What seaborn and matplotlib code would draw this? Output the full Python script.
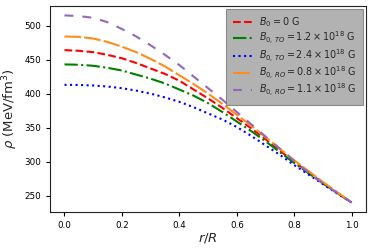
import matplotlib
matplotlib.use("Agg")
import matplotlib.pyplot as plt
import seaborn as sns
import pandas as pd

r = [0.0, 0.05, 0.1, 0.15, 0.2, 0.25, 0.3, 0.35, 0.4, 0.45, 0.5,
     0.55, 0.6, 0.65, 0.7, 0.75, 0.8, 0.85, 0.9, 0.95, 1.0]
rho_b0 = [464, 463, 461, 457, 452, 445, 437, 429, 419, 406, 393,
          379, 364, 349, 333, 316, 300, 284, 269, 254, 240]
rho_to12 = [443, 442.5, 441, 438, 434, 428, 422, 415, 406, 397, 386,
            373, 359, 345, 330, 314, 298, 283, 268, 254, 240]
rho_to24 = [413, 412.8, 412, 410.5, 408, 404.5, 400, 394.5, 388, 380, 371,
            362, 351, 338, 324, 310, 295, 281, 267, 253, 240]
rho_ro08 = [484, 483.5, 481, 476, 469, 461, 451, 440, 427, 414, 400,
            385, 369, 353, 336, 319, 302, 286, 270, 255, 240]
rho_ro11 = [515, 514, 511.5, 505, 495, 484, 471, 457, 442, 425, 408,
            391, 373, 355, 337, 319, 301, 284, 268, 254, 240]

labels = [r'$B_0 = 0$ G',
          r'$B_{0,\,TO} = 1.2 \times 10^{18}$ G',
          r'$B_{0,\,TO} = 2.4 \times 10^{18}$ G',
          r'$B_{0,\,RO} = 0.8 \times 10^{18}$ G',
          r'$B_{0,\,RO} = 1.1 \times 10^{18}$ G']
series = [rho_b0, rho_to12, rho_to24, rho_ro08, rho_ro11]
colors = ['red', 'green', 'blue', '#ff8c1a', '#9467bd']
styles = ['--', '-.', ':', (0, (8, 1.5)), (0, (4.3, 4.3))]

sns.set_style("ticks")
plt.rcParams['font.family'] = ['DejaVu Sans']

fig = plt.figure(figsize=(3.74, 2.52), dpi=100)
ax = fig.add_axes([0.134, 0.159, 0.845, 0.817])

for vals, lab, col, ls in zip(series, labels, colors, styles):
    df = pd.DataFrame({'r': r, 'rho': vals})
    sns.lineplot(data=df, x='r', y='rho', ax=ax, color=col, linestyle=ls,
                 linewidth=1.5, label=lab)

ax.set_xticks([0.0, 0.2, 0.4, 0.6, 0.8, 1.0])
ax.set_yticks([250, 300, 350, 400, 450, 500])
ax.tick_params(labelsize=6.3, length=3, width=0.8, colors='black')
ax.set_xlabel(r'$r/R$', fontsize=9.5, labelpad=1)
ax.set_ylabel(r'$\rho$ (MeV/fm$^3$)', fontsize=9.5, labelpad=3)
for s in ax.spines.values():
    s.set_visible(True)
    s.set_color('#222222')
    s.set_linewidth(0.8)

leg = ax.legend(loc='upper right', fontsize=6.9, facecolor='gray', framealpha=0.6,
                edgecolor='#555555', fancybox=False, labelspacing=0.05,
                handlelength=2.0, borderaxespad=0.3, borderpad=0.65)
leg.get_frame().set_linewidth(0.8)

fig.savefig('out.png', dpi=100)
